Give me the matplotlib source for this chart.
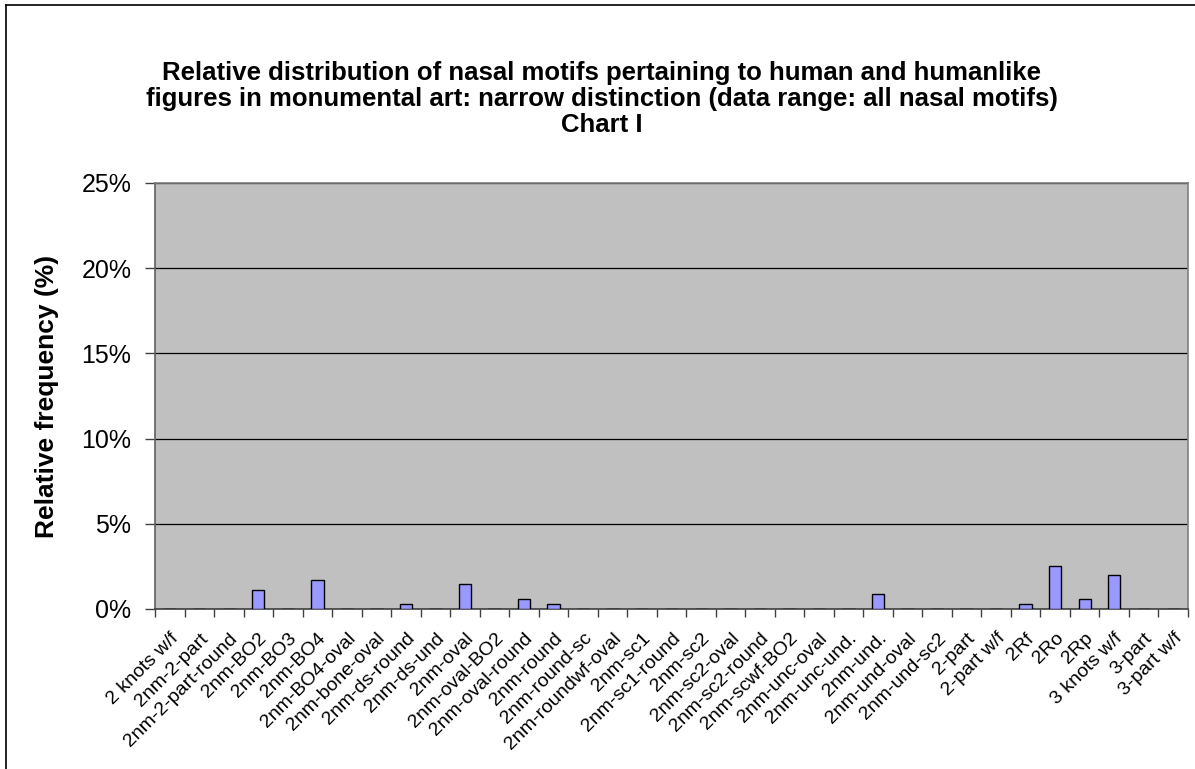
import matplotlib
matplotlib.use("Agg")
import matplotlib.pyplot as plt
import numpy as np
from matplotlib.ticker import FixedLocator, PercentFormatter
from matplotlib.lines import Line2D
from matplotlib.transforms import ScaledTranslation

categories = [
    "2 knots w/f", "2nm-2-part", "2nm-2-part-round", "2nm-BO2", "2nm-BO3",
    "2nm-BO4", "2nm-BO4-oval", "2nm-bone-oval", "2nm-ds-round", "2nm-ds-und",
    "2nm-oval", "2nm-oval-BO2", "2nm-oval-round", "2nm-round", "2nm-round-sc",
    "2nm-roundwf-oval", "2nm-sc1", "2nm-sc1-round", "2nm-sc2", "2nm-sc2-oval",
    "2nm-sc2-round", "2nm-scwf-BO2", "2nm-unc-oval", "2nm-unc-und.", "2nm-und.",
    "2nm-und-oval", "2nm-und-sc2", "2-part", "2-part w/f", "2Rf",
    "2Ro", "2Rp", "3 knots w/f", "3-part", "3-part w/f",
]
values = [
    0.0, 0.0, 0.0, 1.12, 0.0,
    1.68, 0.0, 0.0, 0.30, 0.0,
    1.45, 0.0, 0.56, 0.30, 0.0,
    0.0, 0.0, 0.0, 0.0, 0.0,
    0.0, 0.0, 0.0, 0.0, 0.88,
    0.0, 0.0, 0.0, 0.0, 0.30,
    2.54, 0.56, 1.97, 0.0, 0.0,
]
title = ("Relative distribution of nasal motifs pertaining to human and humanlike\n"
         "figures in monumental art: narrow distinction (data range: all nasal motifs)\n"
         "Chart I")
ylabel = "Relative frequency (%)"

plt.rcParams['font.family'] = ['Liberation Sans', 'DejaVu Sans']

W, H = 1195, 769
fig = plt.figure(figsize=(W / 100, H / 100), dpi=100)
ax = fig.add_axes([155 / W, 1 - 609 / H, (1188 - 155) / W, (609 - 183) / H])

x = np.arange(len(categories))
ax.set_facecolor("#C0C0C0")
ax.bar(x, values, width=0.42, color="#9999FF", edgecolor="black", linewidth=1.0, zorder=3)

ax.set_xlim(-0.5, len(categories) - 0.5)
ax.set_ylim(0, 25)
ax.yaxis.set_major_locator(FixedLocator([0, 5, 10, 15, 20, 25]))
ax.yaxis.set_major_formatter(PercentFormatter(decimals=0))
ax.grid(axis="y", color="black", linewidth=0.9, zorder=1)
ax.set_axisbelow(True)

ax.set_xticks(x)
ax.set_xticklabels(categories, rotation=45, ha="right", va="top",
                   rotation_mode="anchor", fontsize=14)
shift = ScaledTranslation(-7 / 100, 0, fig.dpi_scale_trans)
for lab in ax.get_xticklabels():
    lab.set_transform(lab.get_transform() + shift)
ax.set_xticks(np.arange(len(categories) + 1) - 0.5, minor=True)
ax.tick_params(axis="x", which="major", length=0, pad=15)
ax.tick_params(axis="x", which="minor", length=6, width=1, color="#404040", direction="out")
ax.tick_params(axis="y", which="major", length=7, width=1, color="#404040",
               labelsize=18, pad=10)

for side in ["top", "right"]:
    ax.spines[side].set_color("#808080")
    ax.spines[side].set_linewidth(1.2)
ax.spines["left"].set_color("#606060")
ax.spines["bottom"].set_color("#404040")
ax.spines["left"].set_linewidth(1.2)
ax.spines["bottom"].set_linewidth(1.2)

ax.set_ylabel(ylabel, fontsize=19, fontweight="bold", labelpad=10)
ax.yaxis.set_label_coords(47 / W, 0.5, transform=fig.transFigure)
ax.yaxis.label.set_verticalalignment("center")
ax.yaxis.label.set_position((47 / W, 1 - 396 / H))

fig.text(602 / W, 1 - 99 / H, title, ha="center", va="center", fontsize=18.5,
         fontweight="bold", linespacing=1.1)

# outer chart border (left and top visible)
fig.add_artist(Line2D([6 / W, 6 / W], [0, 1 - 5 / H], transform=fig.transFigure,
                      color="black", linewidth=1.2))
fig.add_artist(Line2D([6 / W, 1], [1 - 5 / H, 1 - 5 / H], transform=fig.transFigure,
                      color="black", linewidth=1.2))

fig.savefig("out.png", dpi=100, facecolor="white")
